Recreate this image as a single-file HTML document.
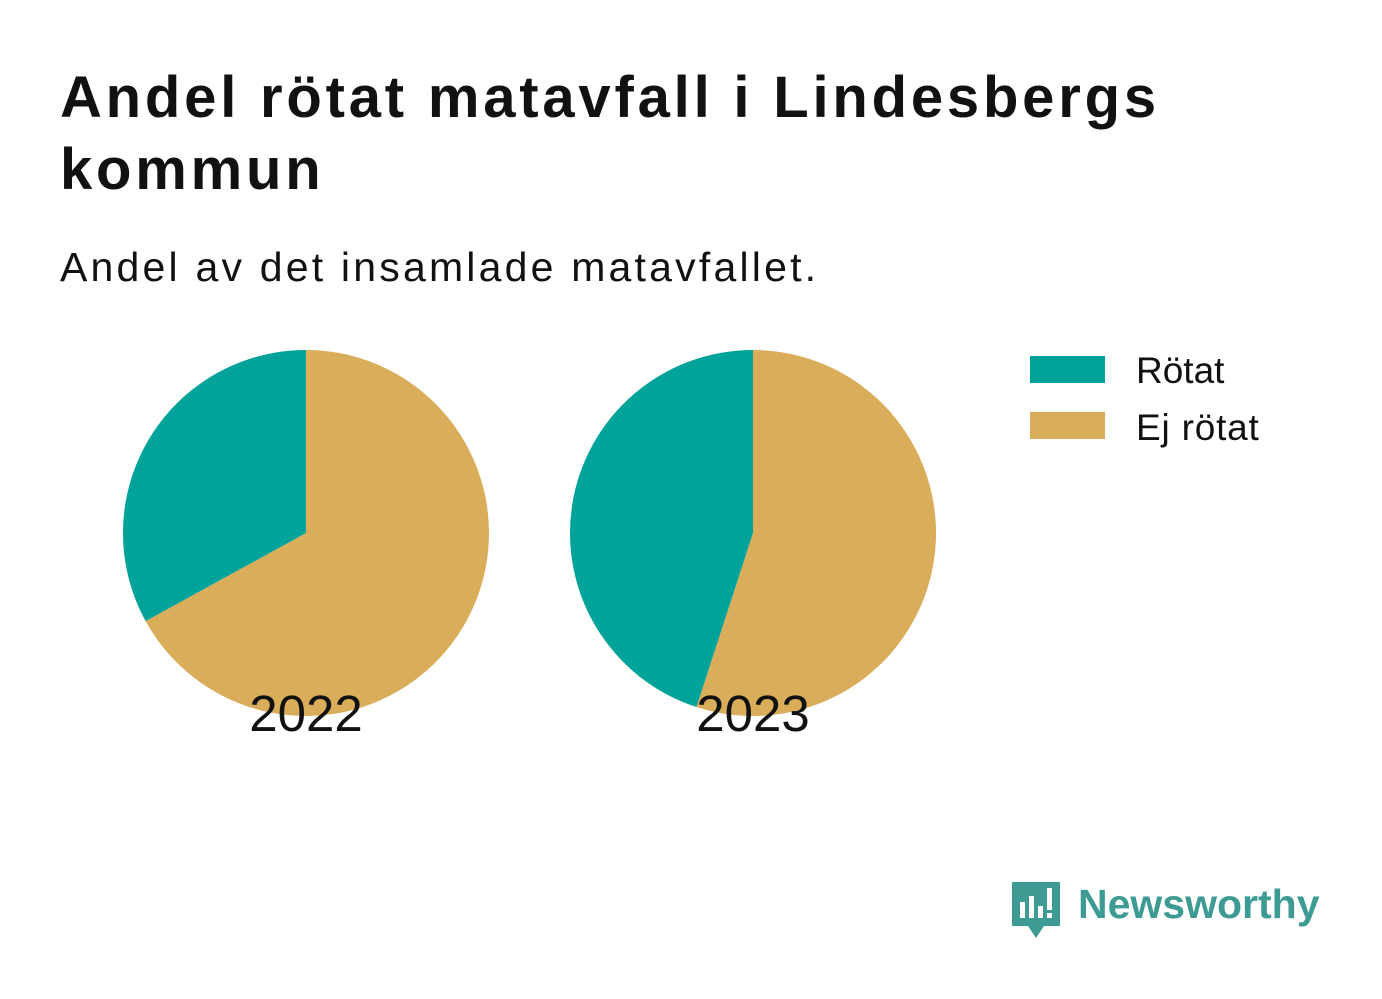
<!DOCTYPE html>
<html><head><meta charset="utf-8"><style>
body{margin:0;background:#fff;font-family:"Liberation Sans",sans-serif;}
#wrap{position:relative;width:1382px;height:999px;overflow:hidden;background:#fff}
h1{position:absolute;left:60px;top:62px;margin:0;font-size:58px;line-height:72px;font-weight:bold;color:#111;letter-spacing:3.8px}
.sub{position:absolute;left:60px;top:244px;font-size:41px;color:#111;letter-spacing:3.2px}
</style></head><body>
<div id="wrap">
<h1>Andel rötat matavfall i Lindesbergs<br>kommun</h1>
<div class="sub">Andel av det insamlade matavfallet.</div>
<svg id="svg" width="1382" height="999" style="position:absolute;left:0;top:0">
<g>
<rect x="1030" y="356" width="75" height="27" fill="#00a39a"/>
<text x="1136" y="383" font-size="37" fill="#111">Rötat</text>
<rect x="1030" y="412" width="75" height="27" fill="#d9ad5a"/>
<text x="1136" y="440" font-size="37" fill="#111" letter-spacing="0.8">Ej rötat</text>
</g>
<g>
<path d="M1012 882h48v44h-16l-8 12-8-12h-16z" fill="#3d9b93"/>
<rect x="1020" y="902" width="5" height="16" fill="#fff"/><rect x="1029" y="896" width="5" height="22" fill="#fff"/><rect x="1038" y="906" width="5" height="12" fill="#fff"/><rect x="1047" y="888" width="5" height="22" fill="#fff"/><rect x="1047" y="913" width="5" height="5" fill="#fff"/>
<text x="1078" y="918" font-size="41" font-weight="bold" fill="#3d9b93">Newsworthy</text>
</g>
</svg>
</div>
<script>
const years=["2022","2023"];
const rotat=[33,45];
const ejRotat=[67,55];
const svg=document.getElementById('svg');
const NS="http://www.w3.org/2000/svg";
const centers=[306,753], cy=533, R=183;
function pt(cx,frac){const a=frac*2*Math.PI;return [cx+R*Math.sin(a),cy-R*Math.cos(a)];}
function slice(cx,f0,f1,color,name){
 const p=document.createElementNS(NS,'path');
 const [x0,y0]=pt(cx,f0),[x1,y1]=pt(cx,f1);
 const large=(f1-f0)>0.5?1:0;
 p.setAttribute('d',`M${cx} ${cy}L${x0} ${y0}A${R} ${R} 0 ${large} 1 ${x1} ${y1}Z`);
 p.setAttribute('fill',color);
 
 
 svg.appendChild(p);
}
years.forEach((y,i)=>{
 const tot=rotat[i]+ejRotat[i];
 const e=ejRotat[i]/tot;
 slice(centers[i],0,e,'#d9ad5a','slice-ej-rotat-'+y);
 slice(centers[i],e,1,'#00a39a','slice-rotat-'+y);
 const t=document.createElementNS(NS,'text');
 t.setAttribute('x',centers[i]);t.setAttribute('y',731);
 t.setAttribute('text-anchor','middle');t.setAttribute('font-size','51');t.setAttribute('fill','#111');
 t.setAttribute('font-family','Liberation Sans, sans-serif');
 t.textContent=y;
 
 
 svg.appendChild(t);
});
</script>
</body></html>
